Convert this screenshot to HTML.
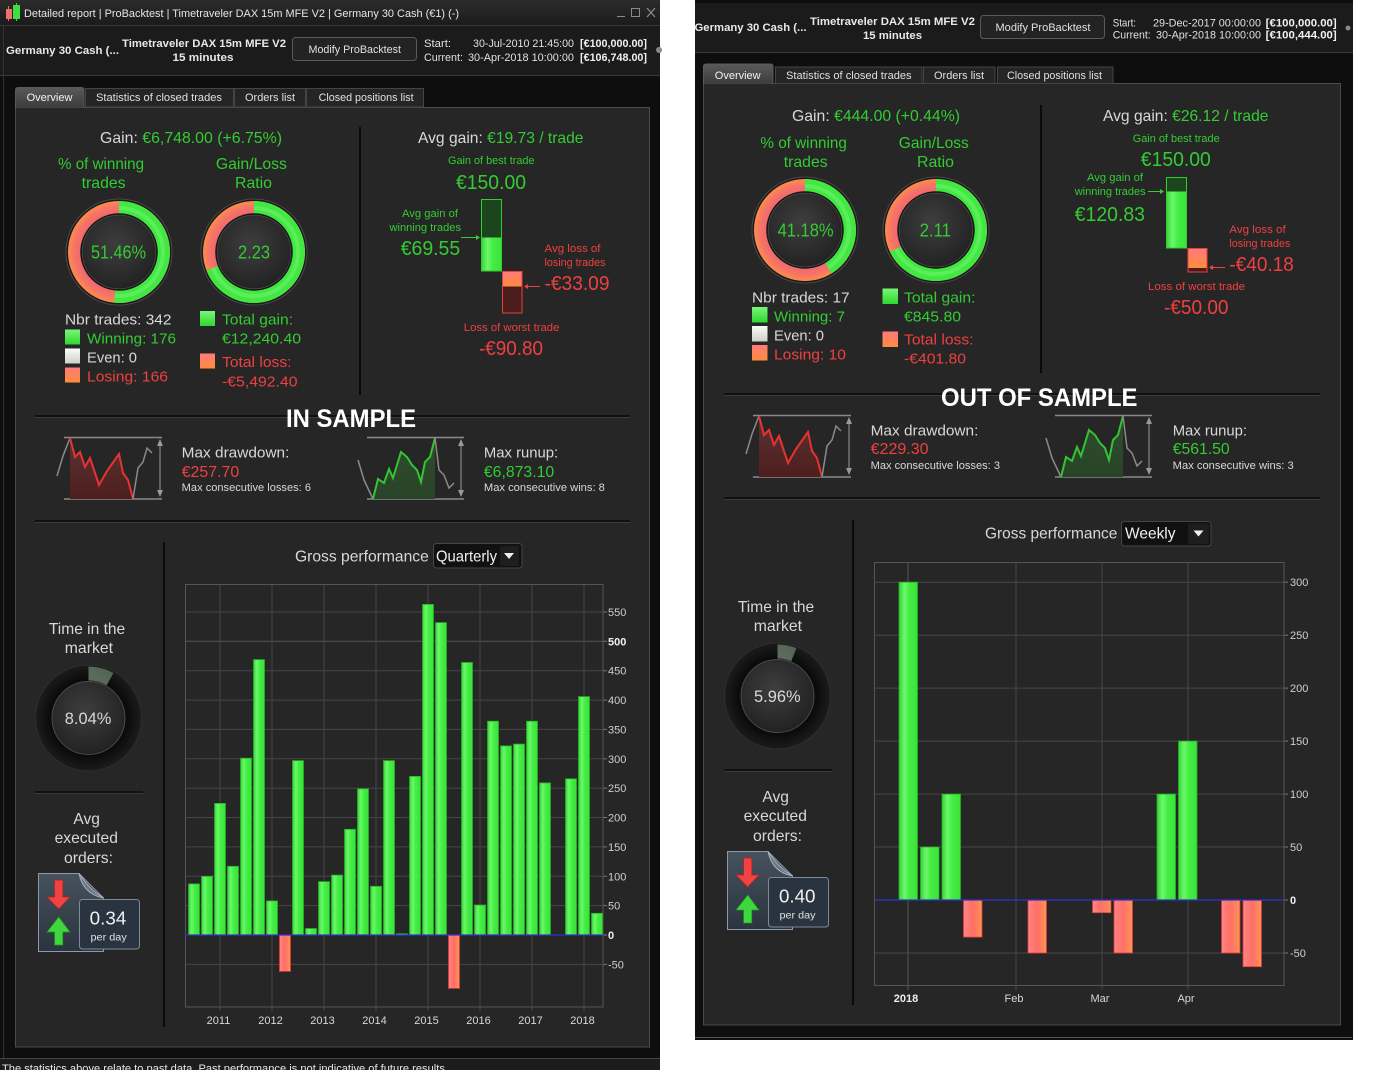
<!DOCTYPE html>
<html><head><meta charset="utf-8"><style>
html,body{margin:0;padding:0;background:#fff;overflow:hidden;}
svg{display:block;}
text{font-family:"Liberation Sans",Arial,sans-serif;}
</style></head><body>
<svg width="1389" height="1070" viewBox="0 0 1389 1070" xmlns="http://www.w3.org/2000/svg">
<defs>
<linearGradient id="gb" x1="0" y1="0" x2="1" y2="0"><stop offset="0" stop-color="#35d435"/><stop offset="0.3" stop-color="#6cf86c"/><stop offset="0.55" stop-color="#44ee44"/><stop offset="1" stop-color="#3ae23a"/></linearGradient>
<linearGradient id="rb" x1="0" y1="0" x2="1" y2="0"><stop offset="0" stop-color="#ff8585"/><stop offset="0.5" stop-color="#ff6f66"/><stop offset="1" stop-color="#ff9455"/></linearGradient>
<radialGradient id="redfill" cx="0.5" cy="0.5" r="0.5"><stop offset="0" stop-color="#f36a6a"/><stop offset="0.78" stop-color="#f36a6a"/><stop offset="0.88" stop-color="#f57468"/><stop offset="1" stop-color="#ff8c48"/></radialGradient>
<radialGradient id="inn" cx="0.45" cy="0.4" r="0.6"><stop offset="0" stop-color="#3e3e3e"/><stop offset="1" stop-color="#222"/></radialGradient>
<radialGradient id="gout" cx="0.5" cy="0.5" r="0.5"><stop offset="0.6" stop-color="#030303"/><stop offset="1" stop-color="#1c1c1c"/></radialGradient>
<linearGradient id="garc" x1="0" y1="0" x2="1" y2="1"><stop offset="0" stop-color="#8a928a"/><stop offset="1" stop-color="#4d5e4d"/></linearGradient>
<linearGradient id="sqg" x1="0" y1="0" x2="0" y2="1"><stop offset="0" stop-color="#7af57a"/><stop offset="1" stop-color="#2ed82e"/></linearGradient>
<linearGradient id="sqw" x1="0" y1="0" x2="0" y2="1"><stop offset="0" stop-color="#fafafa"/><stop offset="1" stop-color="#cfd0c8"/></linearGradient>
<linearGradient id="sqr" x1="0" y1="0" x2="0" y2="1"><stop offset="0" stop-color="#ff7a7a"/><stop offset="1" stop-color="#ff8c3c"/></linearGradient>
<linearGradient id="ddf" x1="0" y1="0" x2="0" y2="1"><stop offset="0" stop-color="#5a3434"/><stop offset="1" stop-color="#4e1e1e"/></linearGradient>
<linearGradient id="ruf" x1="0" y1="0" x2="0" y2="1"><stop offset="0" stop-color="#2f4d2f"/><stop offset="1" stop-color="#284428"/></linearGradient>
<linearGradient id="doc" x1="0" y1="0" x2="0" y2="1"><stop offset="0" stop-color="#46525e"/><stop offset="1" stop-color="#2b343e"/></linearGradient>
<linearGradient id="tabov" x1="0" y1="0" x2="0" y2="1"><stop offset="0" stop-color="#5a5a5a"/><stop offset="1" stop-color="#3c3c3c"/></linearGradient>
<linearGradient id="tbar" x1="0" y1="0" x2="0" y2="1"><stop offset="0" stop-color="#2c2c2c"/><stop offset="1" stop-color="#1b1b1b"/></linearGradient>
</defs>

<!-- ============ LEFT WINDOW ============ -->
<rect x="0" y="0" width="660" height="1070" fill="#0e0e0e"/>
<rect x="0" y="0" width="660" height="25" fill="url(#tbar)"/>
<rect x="0" y="26" width="660" height="49" fill="#1b1b1b"/>
<line x1="0" y1="25.5" x2="660" y2="25.5" stroke="#3a3a3a"/>
<line x1="0" y1="75.5" x2="660" y2="75.5" stroke="#3a3a3a"/>
<line x1="3.5" y1="26" x2="3.5" y2="1058" stroke="#333"/>
<line x1="8.5" y1="6" x2="8.5" y2="21" stroke="#e66"/><rect x="6" y="9" width="6" height="10" fill="#f07070"/>
<line x1="16.5" y1="3" x2="16.5" y2="21" stroke="#4d4"/><rect x="13" y="5" width="7" height="14" fill="#3ee03e"/>
<text x="24" y="17" font-size="11" fill="#e6e6e6" textLength="435" lengthAdjust="spacingAndGlyphs">Detailed report | ProBacktest | Timetraveler DAX 15m MFE V2 | Germany 30 Cash (€1) (-)</text>
<line x1="617" y1="16.5" x2="625" y2="16.5" stroke="#8a8a8a"/>
<rect x="631.5" y="8.5" width="8" height="8" fill="none" stroke="#8a8a8a"/>
<path d="M647,8 L655,17 M655,8 L647,17" stroke="#8a8a8a" stroke-width="1.3"/>
<text x="6" y="54" font-size="11" font-weight="bold" fill="#e8e8e8" textLength="113" lengthAdjust="spacingAndGlyphs">Germany 30 Cash (...</text>
<text x="122" y="47" font-size="11" font-weight="bold" fill="#e8e8e8" textLength="164" lengthAdjust="spacingAndGlyphs">Timetraveler DAX 15m MFE V2</text>
<text x="172.5" y="61" font-size="11" font-weight="bold" fill="#e8e8e8" textLength="61" lengthAdjust="spacingAndGlyphs">15 minutes</text>
<rect x="292.5" y="37.5" width="124" height="23" rx="3" fill="#232323" stroke="#5a5a5a"/>
<text x="308.5" y="53" font-size="11" fill="#e0e0e0" textLength="92.5" lengthAdjust="spacingAndGlyphs">Modify ProBacktest</text>
<text x="424" y="47" font-size="11" fill="#e0e0e0" textLength="27" lengthAdjust="spacingAndGlyphs">Start:</text>
<text x="473" y="47" font-size="11" fill="#e0e0e0" textLength="101" lengthAdjust="spacingAndGlyphs">30-Jul-2010 21:45:00</text>
<text x="580" y="47" font-size="11" font-weight="bold" fill="#f0f0f0" textLength="67" lengthAdjust="spacingAndGlyphs">[€100,000.00]</text>
<text x="424" y="61" font-size="11" fill="#e0e0e0" textLength="39" lengthAdjust="spacingAndGlyphs">Current:</text>
<text x="468" y="61" font-size="11" fill="#e0e0e0" textLength="106" lengthAdjust="spacingAndGlyphs">30-Apr-2018 10:00:00</text>
<text x="580" y="61" font-size="11" font-weight="bold" fill="#f0f0f0" textLength="67" lengthAdjust="spacingAndGlyphs">[€106,748.00]</text>
<circle cx="659" cy="50" r="3" fill="#888"/>
<rect x="15.5" y="107.5" width="634" height="939.5" fill="#262626" stroke="#4a4a4a"/>
<path d="M15.5,107.5 V90 Q15.5,87.5 18,87.5 H81.5 Q84,87.5 84,90 V107.5" fill="url(#tabov)" stroke="#5a5a5a"/>
<text x="49.5" y="101" font-size="11" fill="#f2f2f2" text-anchor="middle">Overview</text>
<rect x="85.5" y="88.5" width="148" height="18.5" fill="#252525" stroke="#444"/>
<text x="96" y="101" font-size="11" fill="#e0e0e0" textLength="126" lengthAdjust="spacingAndGlyphs">Statistics of closed trades</text>
<rect x="234.5" y="88.5" width="71" height="18.5" fill="#252525" stroke="#444"/>
<text x="245" y="101" font-size="11" fill="#e0e0e0" textLength="50" lengthAdjust="spacingAndGlyphs">Orders list</text>
<rect x="306.5" y="88.5" width="117" height="18.5" fill="#252525" stroke="#444"/>
<text x="318.6" y="101" font-size="11" fill="#e0e0e0" textLength="95" lengthAdjust="spacingAndGlyphs">Closed positions list</text>
<rect x="0" y="1059" width="660" height="11" fill="#1c1c1c"/>
<line x1="0" y1="1058.5" x2="660" y2="1058.5" stroke="#444"/>
<text x="2" y="1072" font-size="11" fill="#e6e6e6" textLength="446" lengthAdjust="spacingAndGlyphs">The statistics above relate to past data. Past performance is not indicative of future results.</text>

<!-- LEFT top section -->
<text x="100" y="143" font-size="16" textLength="182" lengthAdjust="spacingAndGlyphs"><tspan fill="#d8d8d8">Gain: </tspan><tspan fill="#33cc33">€6,748.00 (+6.75%)</tspan></text>
<line x1="360" y1="127" x2="360" y2="395" stroke="#0a0a0a" stroke-width="2"/>
<text x="418" y="143" font-size="16" textLength="165.5" lengthAdjust="spacingAndGlyphs"><tspan fill="#d8d8d8">Avg gain: </tspan><tspan fill="#33cc33">€19.73 / trade</tspan></text>
<text x="58" y="169" font-size="16" fill="#33cc33" textLength="86" lengthAdjust="spacingAndGlyphs">% of winning</text>
<text x="81.6" y="188" font-size="16" fill="#33cc33" textLength="44" lengthAdjust="spacingAndGlyphs">trades</text>
<text x="215.9" y="169" font-size="16" fill="#33cc33" textLength="71" lengthAdjust="spacingAndGlyphs">Gain/Loss</text>
<text x="235" y="188" font-size="16" fill="#33cc33" textLength="37" lengthAdjust="spacingAndGlyphs">Ratio</text>
<!-- donut 1 -->
<circle cx="119" cy="252" r="53" fill="#1a1a1a" stroke="#4a4a4a"/>
<circle cx="119" cy="252" r="51" fill="url(#redfill)"/>
<circle cx="119" cy="252" r="44.5" fill="none" stroke="#42e842" stroke-width="13" stroke-dasharray="143.9 400" transform="rotate(-90 119 252)"/>
<circle cx="119" cy="252" r="44" fill="none" stroke="#8af88a" stroke-opacity="0.35" stroke-width="4" stroke-dasharray="142.3 400" transform="rotate(-90 119 252)"/>
<circle cx="119" cy="252" r="38" fill="url(#inn)" stroke="#161616" stroke-width="1.5"/>
<circle cx="119" cy="252" r="36.8" fill="none" stroke="#505050" stroke-width="0.6"/>
<text x="91" y="258.5" font-size="18" fill="#33cc33" textLength="55" lengthAdjust="spacingAndGlyphs">51.46%</text>
<!-- donut 2 -->
<circle cx="254" cy="252" r="53" fill="#1a1a1a" stroke="#4a4a4a"/>
<circle cx="254" cy="252" r="51" fill="url(#redfill)"/>
<circle cx="254" cy="252" r="44.5" fill="none" stroke="#42e842" stroke-width="13" stroke-dasharray="192.9 400" transform="rotate(-90 254 252)"/>
<circle cx="254" cy="252" r="44" fill="none" stroke="#8af88a" stroke-opacity="0.35" stroke-width="4" stroke-dasharray="190.8 400" transform="rotate(-90 254 252)"/>
<circle cx="254" cy="252" r="38" fill="url(#inn)" stroke="#161616" stroke-width="1.5"/>
<circle cx="254" cy="252" r="36.8" fill="none" stroke="#505050" stroke-width="0.6"/>
<text x="238" y="258.5" font-size="18" fill="#33cc33" textLength="32" lengthAdjust="spacingAndGlyphs">2.23</text>
<!-- legend -->
<text x="65" y="324.4" font-size="15" fill="#d8d8d8" textLength="106.5" lengthAdjust="spacingAndGlyphs">Nbr trades: 342</text>
<rect x="65" y="329.5" width="15" height="15" fill="url(#sqg)"/>
<text x="87" y="343.4" font-size="15" fill="#33cc33" textLength="89" lengthAdjust="spacingAndGlyphs">Winning: 176</text>
<rect x="65" y="348.5" width="15" height="15" fill="url(#sqw)"/>
<text x="87" y="362.4" font-size="15" fill="#d8d8d8" textLength="50" lengthAdjust="spacingAndGlyphs">Even: 0</text>
<rect x="65" y="367.5" width="15" height="15" fill="url(#sqr)"/>
<text x="87" y="381.4" font-size="15" fill="#ee4040" textLength="81" lengthAdjust="spacingAndGlyphs">Losing: 166</text>
<rect x="200" y="311" width="15" height="15" fill="url(#sqg)"/>
<text x="222" y="324.4" font-size="15" fill="#33cc33" textLength="71" lengthAdjust="spacingAndGlyphs">Total gain:</text>
<text x="222" y="343.4" font-size="15" fill="#33cc33" textLength="79" lengthAdjust="spacingAndGlyphs">€12,240.40</text>
<rect x="200" y="353.5" width="15" height="15" fill="url(#sqr)"/>
<text x="222" y="367.1" font-size="15" fill="#ee4040" textLength="69.5" lengthAdjust="spacingAndGlyphs">Total loss:</text>
<text x="222" y="386.4" font-size="15" fill="#ee4040" textLength="75.5" lengthAdjust="spacingAndGlyphs">-€5,492.40</text>
<!-- avg gain diagram -->
<text x="448" y="164" font-size="11" fill="#33cc33" textLength="86.5" lengthAdjust="spacingAndGlyphs">Gain of best trade</text>
<text x="456" y="189" font-size="20" fill="#33cc33" textLength="70" lengthAdjust="spacingAndGlyphs">€150.00</text>
<rect x="481.5" y="199.5" width="20" height="38" fill="#1d451d"/>
<rect x="481.5" y="237.5" width="20" height="33.5" fill="url(#gb)"/>
<rect x="481.5" y="199.5" width="20" height="71.5" fill="none" stroke="#33cc33"/>
<rect x="502.5" y="271.5" width="19.5" height="15" fill="url(#sqr)"/>
<rect x="502.5" y="286.5" width="19.5" height="26.5" fill="#4a1c1c"/>
<rect x="502.5" y="271.5" width="19.5" height="41.5" fill="none" stroke="#e84040"/>
<text x="402" y="217" font-size="11" fill="#33cc33" textLength="56" lengthAdjust="spacingAndGlyphs">Avg gain of</text>
<text x="389.5" y="231" font-size="11" fill="#33cc33" textLength="71.5" lengthAdjust="spacingAndGlyphs">winning trades</text>
<line x1="461" y1="237.5" x2="476" y2="237.5" stroke="#33cc33"/><polygon points="476,235 480,237.5 476,240" fill="#33cc33"/>
<text x="400.7" y="255" font-size="20" fill="#33cc33" textLength="59.5" lengthAdjust="spacingAndGlyphs">€69.55</text>
<text x="544.5" y="252" font-size="11" fill="#ee4040" textLength="56" lengthAdjust="spacingAndGlyphs">Avg loss of</text>
<text x="544.5" y="266" font-size="11" fill="#ee4040" textLength="61" lengthAdjust="spacingAndGlyphs">losing trades</text>
<line x1="528" y1="286.5" x2="540" y2="286.5" stroke="#ee4040"/><polygon points="528,284 524,286.5 528,289" fill="#ee4040"/>
<text x="544.5" y="290" font-size="20" fill="#ee4040" textLength="65" lengthAdjust="spacingAndGlyphs">-€33.09</text>
<text x="463.8" y="331" font-size="11" fill="#ee4040" textLength="95.6" lengthAdjust="spacingAndGlyphs">Loss of worst trade</text>
<text x="479" y="355" font-size="20" fill="#ee4040" textLength="64" lengthAdjust="spacingAndGlyphs">-€90.80</text>

<!-- LEFT middle -->
<line x1="35" y1="416" x2="630" y2="416" stroke="#080808" stroke-width="1.5"/>
<line x1="35" y1="417.5" x2="630" y2="417.5" stroke="#3c3c3c"/>
<text x="286" y="427" font-size="25" font-weight="bold" fill="#ffffff" textLength="130" lengthAdjust="spacingAndGlyphs">IN SAMPLE</text>
<line x1="35" y1="521" x2="630" y2="521" stroke="#080808" stroke-width="1.5"/>
<line x1="35" y1="522.5" x2="630" y2="522.5" stroke="#3c3c3c"/>

<g id="ddchart">
<line x1="64" y1="437.5" x2="162" y2="437.5" stroke="#8a8a8a" stroke-width="1.5"/>
<line x1="64" y1="499" x2="162" y2="499" stroke="#8a8a8a" stroke-width="1.5"/>
<line x1="160" y1="441" x2="160" y2="495" stroke="#9a9a9a"/>
<polygon points="157,446 160,439 163,446" fill="#9a9a9a"/><polygon points="157,490 160,497 163,490" fill="#9a9a9a"/>
<path d="M70,438 L75,457 L80,452 L85,467 L90,458 L99,485 L107,471 L119,454 L123,473 L128,480 L133,499 L70,499 Z" fill="url(#ddf)"/>
<path d="M57,476 L63,456 L70,438" fill="none" stroke="#8a8a8a" stroke-width="1.5"/>
<path d="M70,438 L75,457 L80,452 L85,467 L90,458 L99,485 L107,471 L119,454 L123,473 L128,480 L133,499" fill="none" stroke="#e83232" stroke-width="2"/>
<path d="M133,499 L138,468 L143,462 L147,448 L152,453" fill="none" stroke="#8a8a8a" stroke-width="1.5"/>
</g>
<text x="181.7" y="457.4" font-size="15" fill="#d8d8d8" textLength="107.7" lengthAdjust="spacingAndGlyphs">Max drawdown:</text>
<text x="181.7" y="476.8" font-size="16" fill="#ee4040" textLength="57.5" lengthAdjust="spacingAndGlyphs">€257.70</text>
<text x="181.7" y="491" font-size="11" fill="#d8d8d8" textLength="129.3" lengthAdjust="spacingAndGlyphs">Max consecutive losses: 6</text>

<g id="ruchart">
<line x1="367" y1="437.5" x2="464" y2="437.5" stroke="#8a8a8a" stroke-width="1.5"/>
<line x1="367" y1="499" x2="464" y2="499" stroke="#8a8a8a" stroke-width="1.5"/>
<line x1="461" y1="441" x2="461" y2="495" stroke="#9a9a9a"/>
<polygon points="458,446 461,439 464,446" fill="#9a9a9a"/><polygon points="458,490 461,497 464,490" fill="#9a9a9a"/>
<path d="M373,499 L378,479 L384,483 L389,469 L393,478 L401,452 L407,457 L412,465 L417,470 L421,482 L425,462 L430,457 L435,438 L435,499 Z" fill="url(#ruf)"/>
<path d="M358,460 L364,480 L373,499" fill="none" stroke="#8a8a8a" stroke-width="1.5"/>
<path d="M373,499 L378,479 L384,483 L389,469 L393,478 L401,452 L407,457 L412,465 L417,470 L421,482 L425,462 L430,457 L435,438" fill="none" stroke="#33c433" stroke-width="2"/>
<path d="M435,438 L439,470 L444,475 L449,488 L454,483" fill="none" stroke="#8a8a8a" stroke-width="1.5"/>
</g>
<text x="483.9" y="457.4" font-size="15" fill="#d8d8d8" textLength="74.3" lengthAdjust="spacingAndGlyphs">Max runup:</text>
<text x="483.9" y="476.8" font-size="16" fill="#33cc33" textLength="70.3" lengthAdjust="spacingAndGlyphs">€6,873.10</text>
<text x="483.9" y="491" font-size="11" fill="#d8d8d8" textLength="121" lengthAdjust="spacingAndGlyphs">Max consecutive wins: 8</text>

<!-- LEFT bottom -->
<line x1="164" y1="542" x2="164" y2="1027" stroke="#0a0a0a" stroke-width="2"/>
<g id="leftcol">
<text x="48.9" y="633.8" font-size="16" fill="#d8d8d8" textLength="76.3" lengthAdjust="spacingAndGlyphs">Time in the</text>
<text x="64.8" y="652.8" font-size="16" fill="#d8d8d8" textLength="48.2" lengthAdjust="spacingAndGlyphs">market</text>
<circle cx="88.5" cy="718" r="53" fill="url(#gout)" stroke="#2e2e2e"/>
<circle cx="88.5" cy="718" r="36.5" fill="url(#inn)" stroke="#4a4a4a"/>
<line x1="35" y1="792" x2="143" y2="792" stroke="#0a0a0a" stroke-width="1.5"/>
<line x1="35" y1="793.5" x2="143" y2="793.5" stroke="#3a3a3a"/>
<text x="73.4" y="823.8" font-size="16" fill="#d8d8d8" textLength="26.5" lengthAdjust="spacingAndGlyphs">Avg</text>
<text x="54.6" y="842.8" font-size="16" fill="#d8d8d8" textLength="63.3" lengthAdjust="spacingAndGlyphs">executed</text>
<text x="64" y="862.8" font-size="16" fill="#d8d8d8" textLength="49" lengthAdjust="spacingAndGlyphs">orders:</text>
<path d="M38.5,873.5 H79 L103.5,898 V951.5 H38.5 Z" fill="url(#doc)" stroke="#8a9aaa"/>
<path d="M79,873.5 Q83,894 103.5,898 Q90,890 79,873.5 Z" fill="#6d7884" stroke="#b0bcc8" stroke-width="0.8"/>
<polygon points="54.6,880 62.8,880 62.8,897 70,897 58.7,909 47,897 54.6,897" fill="#f04444" stroke="#b82020" stroke-width="0.7"/>
<polygon points="58.7,917 70,932 62.8,932 62.8,945 54.6,945 54.6,932 47,932" fill="#3ed83e" stroke="#1f9a1f" stroke-width="0.7"/>
<rect x="79.5" y="899.5" width="60" height="49.5" rx="3" fill="#2a3440" stroke="#7d8a98"/>
</g>
<circle cx="88.5" cy="718" r="44.5" fill="none" stroke="url(#garc)" stroke-width="14" stroke-dasharray="22.5 400" transform="rotate(-90 88.5 718)"/>
<text x="64.8" y="724" font-size="17" fill="#d8d8d8" textLength="46.5" lengthAdjust="spacingAndGlyphs">8.04%</text>
<text x="89.7" y="924.5" font-size="18" fill="#f0f0f0" textLength="36.7" lengthAdjust="spacingAndGlyphs">0.34</text>
<text x="90.5" y="940.5" font-size="10" fill="#e0e0e0" textLength="36.3" lengthAdjust="spacingAndGlyphs">per day</text>

<text x="295" y="561.6" font-size="16" fill="#d8d8d8" textLength="133.8" lengthAdjust="spacingAndGlyphs">Gross performance</text>
<rect x="433.5" y="543.5" width="88.5" height="24.5" rx="3" fill="#111" stroke="#454545"/>
<text x="436" y="561.6" font-size="16" fill="#f0f0f0" textLength="61" lengthAdjust="spacingAndGlyphs">Quarterly</text>
<rect x="500" y="546" width="19" height="20" rx="2" fill="#1e1e1e"/>
<polygon points="504,553 514,553 509,559" fill="#f0f0f0"/>

<!-- left chart -->
<g stroke="#464646" stroke-width="1">
<line x1="185" y1="612" x2="603" y2="612"/><line x1="185" y1="641.3" x2="603" y2="641.3" stroke="#555"/><line x1="185" y1="670.7" x2="603" y2="670.7"/><line x1="185" y1="700.1" x2="603" y2="700.1"/><line x1="185" y1="729.4" x2="603" y2="729.4"/><line x1="185" y1="758.8" x2="603" y2="758.8"/><line x1="185" y1="788.2" x2="603" y2="788.2"/><line x1="185" y1="817.5" x2="603" y2="817.5"/><line x1="185" y1="846.9" x2="603" y2="846.9"/><line x1="185" y1="876.3" x2="603" y2="876.3"/><line x1="185" y1="905.6" x2="603" y2="905.6"/><line x1="185" y1="964.4" x2="603" y2="964.4"/>
<line x1="220" y1="584" x2="220" y2="1011"/><line x1="272" y1="584" x2="272" y2="1011"/><line x1="324" y1="584" x2="324" y2="1011"/><line x1="376" y1="584" x2="376" y2="1011"/><line x1="428" y1="584" x2="428" y2="1011"/><line x1="480" y1="584" x2="480" y2="1011"/><line x1="532" y1="584" x2="532" y2="1011"/><line x1="584" y1="584" x2="584" y2="1011"/>
</g>
<g stroke="#777"><line x1="603" y1="612" x2="607" y2="612"/><line x1="603" y1="641.3" x2="607" y2="641.3"/><line x1="603" y1="670.7" x2="607" y2="670.7"/><line x1="603" y1="700.1" x2="607" y2="700.1"/><line x1="603" y1="729.4" x2="607" y2="729.4"/><line x1="603" y1="758.8" x2="607" y2="758.8"/><line x1="603" y1="788.2" x2="607" y2="788.2"/><line x1="603" y1="817.5" x2="607" y2="817.5"/><line x1="603" y1="846.9" x2="607" y2="846.9"/><line x1="603" y1="876.3" x2="607" y2="876.3"/><line x1="603" y1="905.6" x2="607" y2="905.6"/><line x1="603" y1="935" x2="607" y2="935"/><line x1="603" y1="964.4" x2="607" y2="964.4"/></g>
<rect x="185.5" y="584.5" width="417.5" height="422.5" fill="none" stroke="#555"/>
<g stroke="#27b027" stroke-width="0.8" fill="url(#gb)">
<rect x="188.5" y="883.9" width="11" height="51.1"/><rect x="201.5" y="876.3" width="11" height="58.7"/><rect x="214.5" y="803.4" width="11" height="131.6"/><rect x="227.5" y="866.3" width="11" height="68.7"/><rect x="240.5" y="758.2" width="11" height="176.8"/><rect x="253.5" y="659.6" width="11" height="275.4"/><rect x="266.5" y="900.9" width="11" height="34.1"/>
<rect x="292.5" y="760.6" width="11" height="174.4"/><rect x="305.5" y="928.5" width="11" height="6.5"/><rect x="318.5" y="881.6" width="11" height="53.4"/><rect x="331.5" y="875.1" width="11" height="59.9"/><rect x="344.5" y="829.3" width="11" height="105.7"/><rect x="357.5" y="788.8" width="11" height="146.2"/><rect x="370.5" y="886.3" width="11" height="48.7"/><rect x="383.5" y="760.6" width="11" height="174.4"/><rect x="396.5" y="933.8" width="11" height="1.2"/><rect x="409.5" y="776.4" width="11" height="158.6"/><rect x="422.5" y="604.4" width="11" height="330.6"/><rect x="435.5" y="622.6" width="11" height="312.4"/>
<rect x="461.5" y="662.5" width="11" height="272.5"/><rect x="474.5" y="905" width="11" height="30"/><rect x="487.5" y="721.2" width="11" height="213.8"/><rect x="500.5" y="745.9" width="11" height="189.1"/><rect x="513.5" y="744.1" width="11" height="190.9"/><rect x="526.5" y="721.2" width="11" height="213.8"/><rect x="539.5" y="782.9" width="11" height="152.1"/><rect x="565.5" y="778.8" width="11" height="156.2"/><rect x="578.5" y="696.6" width="11" height="238.4"/><rect x="591.5" y="913.3" width="11" height="21.7"/>
</g>
<g stroke="#e03a3a" stroke-width="0.8" fill="url(#rb)">
<rect x="279.5" y="935" width="11" height="36.4"/><rect x="448.5" y="935" width="11" height="53.4"/>
</g>
<line x1="185" y1="935" x2="603" y2="935" stroke="#3030d8" stroke-width="1.3"/>
<g font-size="11" fill="#cfcfcf">
<text x="608" y="616">550</text><text x="608" y="645.3" font-weight="bold" fill="#f0f0f0">500</text><text x="608" y="674.7">450</text><text x="608" y="704.1">400</text><text x="608" y="733.4">350</text><text x="608" y="762.8">300</text><text x="608" y="792.2">250</text><text x="608" y="821.5">200</text><text x="608" y="850.9">150</text><text x="608" y="880.3">100</text><text x="608" y="909.6">50</text><text x="608" y="939" font-weight="bold" fill="#f0f0f0">0</text><text x="608" y="968.4">-50</text>
</g>
<g font-size="11" fill="#d8d8d8" text-anchor="middle">
<text x="218.5" y="1024">2011</text><text x="270.5" y="1024">2012</text><text x="322.5" y="1024">2013</text><text x="374.5" y="1024">2014</text><text x="426.5" y="1024">2015</text><text x="478.5" y="1024">2016</text><text x="530.5" y="1024">2017</text><text x="582.5" y="1024">2018</text>
</g>

<!-- ============ RIGHT WINDOW ============ -->
<rect x="695" y="0" width="658" height="1040" fill="#0e0e0e"/>
<rect x="695" y="3" width="658" height="49" fill="#1b1b1b"/>
<line x1="695" y1="52.5" x2="1353" y2="52.5" stroke="#3a3a3a"/>
<text x="694.5" y="31" font-size="11" font-weight="bold" fill="#e8e8e8" textLength="112" lengthAdjust="spacingAndGlyphs">Germany 30 Cash (...</text>
<text x="810" y="25" font-size="11" font-weight="bold" fill="#e8e8e8" textLength="165" lengthAdjust="spacingAndGlyphs">Timetraveler DAX 15m MFE V2</text>
<text x="863" y="39" font-size="11" font-weight="bold" fill="#e8e8e8" textLength="59" lengthAdjust="spacingAndGlyphs">15 minutes</text>
<rect x="980.5" y="15.5" width="124" height="23" rx="3" fill="#232323" stroke="#5a5a5a"/>
<text x="995.5" y="31" font-size="11" fill="#e0e0e0" textLength="95" lengthAdjust="spacingAndGlyphs">Modify ProBacktest</text>
<text x="1112.7" y="26.5" font-size="11" fill="#e0e0e0" textLength="23.3" lengthAdjust="spacingAndGlyphs">Start:</text>
<text x="1153" y="26.5" font-size="11" fill="#e0e0e0" textLength="108" lengthAdjust="spacingAndGlyphs">29-Dec-2017 00:00:00</text>
<text x="1265.7" y="26.5" font-size="11" font-weight="bold" fill="#f0f0f0" textLength="71" lengthAdjust="spacingAndGlyphs">[€100,000.00]</text>
<text x="1112.7" y="38.6" font-size="11" fill="#e0e0e0" textLength="38" lengthAdjust="spacingAndGlyphs">Current:</text>
<text x="1156" y="38.6" font-size="11" fill="#e0e0e0" textLength="105" lengthAdjust="spacingAndGlyphs">30-Apr-2018 10:00:00</text>
<text x="1265.7" y="38.6" font-size="11" font-weight="bold" fill="#f0f0f0" textLength="71" lengthAdjust="spacingAndGlyphs">[€100,444.00]</text>
<circle cx="1348" cy="28" r="2.5" fill="#888"/>
<rect x="703.5" y="83.5" width="637" height="941.5" fill="#262626" stroke="#4a4a4a"/>
<line x1="695" y1="1037.5" x2="1352" y2="1037.5" stroke="#555"/>
<path d="M703.5,83.5 V66.5 Q703.5,64 706,64 H770.5 Q773,64 773,66.5 V83.5" fill="url(#tabov)" stroke="#5a5a5a"/>
<text x="737.7" y="79" font-size="11" fill="#f2f2f2" text-anchor="middle">Overview</text>
<rect x="775.5" y="67" width="146.5" height="16.5" fill="#252525" stroke="#444"/>
<text x="786" y="79" font-size="11" fill="#e0e0e0" textLength="125.6" lengthAdjust="spacingAndGlyphs">Statistics of closed trades</text>
<rect x="923.5" y="67" width="71.5" height="16.5" fill="#252525" stroke="#444"/>
<text x="934" y="79" font-size="11" fill="#e0e0e0" textLength="50" lengthAdjust="spacingAndGlyphs">Orders list</text>
<rect x="997.5" y="67" width="115.5" height="16.5" fill="#252525" stroke="#444"/>
<text x="1007" y="79" font-size="11" fill="#e0e0e0" textLength="95" lengthAdjust="spacingAndGlyphs">Closed positions list</text>

<!-- RIGHT top -->
<text x="792" y="121" font-size="16" textLength="168" lengthAdjust="spacingAndGlyphs"><tspan fill="#d8d8d8">Gain: </tspan><tspan fill="#33cc33">€444.00 (+0.44%)</tspan></text>
<line x1="1041" y1="105" x2="1041" y2="373" stroke="#0a0a0a" stroke-width="2"/>
<text x="1103" y="121" font-size="16" textLength="165.5" lengthAdjust="spacingAndGlyphs"><tspan fill="#d8d8d8">Avg gain: </tspan><tspan fill="#33cc33">€26.12 / trade</tspan></text>
<text x="760.4" y="148" font-size="16" fill="#33cc33" textLength="86.5" lengthAdjust="spacingAndGlyphs">% of winning</text>
<text x="783.7" y="167" font-size="16" fill="#33cc33" textLength="44" lengthAdjust="spacingAndGlyphs">trades</text>
<text x="898.8" y="148" font-size="16" fill="#33cc33" textLength="70" lengthAdjust="spacingAndGlyphs">Gain/Loss</text>
<text x="917" y="167" font-size="16" fill="#33cc33" textLength="37" lengthAdjust="spacingAndGlyphs">Ratio</text>
<circle cx="805" cy="230" r="53" fill="#1a1a1a" stroke="#4a4a4a"/>
<circle cx="805" cy="230" r="51" fill="url(#redfill)"/>
<circle cx="805" cy="230" r="44.5" fill="none" stroke="#42e842" stroke-width="13" stroke-dasharray="115.1 400" transform="rotate(-90 805 230)"/>
<circle cx="805" cy="230" r="44" fill="none" stroke="#8af88a" stroke-opacity="0.35" stroke-width="4" stroke-dasharray="113.9 400" transform="rotate(-90 805 230)"/>
<circle cx="805" cy="230" r="38" fill="url(#inn)" stroke="#161616" stroke-width="1.5"/>
<circle cx="805" cy="230" r="36.8" fill="none" stroke="#505050" stroke-width="0.6"/>
<text x="777.6" y="236.5" font-size="18" fill="#33cc33" textLength="56" lengthAdjust="spacingAndGlyphs">41.18%</text>
<circle cx="936" cy="230" r="53" fill="#1a1a1a" stroke="#4a4a4a"/>
<circle cx="936" cy="230" r="51" fill="url(#redfill)"/>
<circle cx="936" cy="230" r="44.5" fill="none" stroke="#42e842" stroke-width="13" stroke-dasharray="189.6 400" transform="rotate(-90 936 230)"/>
<circle cx="936" cy="230" r="44" fill="none" stroke="#8af88a" stroke-opacity="0.35" stroke-width="4" stroke-dasharray="187.5 400" transform="rotate(-90 936 230)"/>
<circle cx="936" cy="230" r="38" fill="url(#inn)" stroke="#161616" stroke-width="1.5"/>
<circle cx="936" cy="230" r="36.8" fill="none" stroke="#505050" stroke-width="0.6"/>
<text x="919.6" y="236.5" font-size="18" fill="#33cc33" textLength="31.4" lengthAdjust="spacingAndGlyphs">2.11</text>
<text x="752" y="302.4" font-size="15" fill="#d8d8d8" textLength="97.6" lengthAdjust="spacingAndGlyphs">Nbr trades: 17</text>
<rect x="752" y="307" width="15.5" height="15.5" fill="url(#sqg)"/>
<text x="774" y="321.4" font-size="15" fill="#33cc33" textLength="71" lengthAdjust="spacingAndGlyphs">Winning: 7</text>
<rect x="752" y="326" width="15.5" height="15.5" fill="url(#sqw)"/>
<text x="774" y="340.4" font-size="15" fill="#d8d8d8" textLength="50" lengthAdjust="spacingAndGlyphs">Even: 0</text>
<rect x="752" y="345" width="15.5" height="15.5" fill="url(#sqr)"/>
<text x="774" y="359.4" font-size="15" fill="#ee4040" textLength="72" lengthAdjust="spacingAndGlyphs">Losing: 10</text>
<rect x="882.5" y="288.5" width="15.5" height="15.5" fill="url(#sqg)"/>
<text x="904" y="302.4" font-size="15" fill="#33cc33" textLength="71.5" lengthAdjust="spacingAndGlyphs">Total gain:</text>
<text x="904" y="321.4" font-size="15" fill="#33cc33" textLength="57" lengthAdjust="spacingAndGlyphs">€845.80</text>
<rect x="882.5" y="331.5" width="15.5" height="15.5" fill="url(#sqr)"/>
<text x="904" y="344.4" font-size="15" fill="#ee4040" textLength="69.5" lengthAdjust="spacingAndGlyphs">Total loss:</text>
<text x="904" y="363.4" font-size="15" fill="#ee4040" textLength="62" lengthAdjust="spacingAndGlyphs">-€401.80</text>
<text x="1132.7" y="142" font-size="11" fill="#33cc33" textLength="87" lengthAdjust="spacingAndGlyphs">Gain of best trade</text>
<text x="1140.8" y="166" font-size="20" fill="#33cc33" textLength="70" lengthAdjust="spacingAndGlyphs">€150.00</text>
<rect x="1166.5" y="177.5" width="20" height="14" fill="#1d451d"/>
<rect x="1166.5" y="191.5" width="20" height="56.5" fill="url(#gb)"/>
<rect x="1166.5" y="177.5" width="20" height="70.5" fill="none" stroke="#33cc33"/>
<rect x="1188" y="248.5" width="19" height="19.5" fill="url(#sqr)"/>
<rect x="1188" y="268" width="19" height="4" fill="#4a1c1c"/>
<rect x="1188" y="248.5" width="19" height="23.5" fill="none" stroke="#e84040"/>
<text x="1087" y="181" font-size="11" fill="#33cc33" textLength="56" lengthAdjust="spacingAndGlyphs">Avg gain of</text>
<text x="1074.7" y="195" font-size="11" fill="#33cc33" textLength="71" lengthAdjust="spacingAndGlyphs">winning trades</text>
<line x1="1148" y1="191.5" x2="1160" y2="191.5" stroke="#33cc33"/><polygon points="1160,189 1164,191.5 1160,194" fill="#33cc33"/>
<text x="1074.7" y="221" font-size="20" fill="#33cc33" textLength="70.3" lengthAdjust="spacingAndGlyphs">€120.83</text>
<text x="1229.4" y="233" font-size="11" fill="#ee4040" textLength="56.3" lengthAdjust="spacingAndGlyphs">Avg loss of</text>
<text x="1229.4" y="247" font-size="11" fill="#ee4040" textLength="61" lengthAdjust="spacingAndGlyphs">losing trades</text>
<line x1="1213" y1="267.5" x2="1225" y2="267.5" stroke="#ee4040"/><polygon points="1213,265 1209,267.5 1213,270" fill="#ee4040"/>
<text x="1229.4" y="271" font-size="20" fill="#ee4040" textLength="64.5" lengthAdjust="spacingAndGlyphs">-€40.18</text>
<text x="1148" y="290" font-size="11" fill="#ee4040" textLength="97" lengthAdjust="spacingAndGlyphs">Loss of worst trade</text>
<text x="1164" y="314" font-size="20" fill="#ee4040" textLength="64.5" lengthAdjust="spacingAndGlyphs">-€50.00</text>

<!-- RIGHT middle -->
<line x1="724" y1="394" x2="1320" y2="394" stroke="#080808" stroke-width="1.5"/>
<line x1="724" y1="395.5" x2="1320" y2="395.5" stroke="#3c3c3c"/>
<text x="941" y="406" font-size="25" font-weight="bold" fill="#ffffff" textLength="196.5" lengthAdjust="spacingAndGlyphs">OUT OF SAMPLE</text>
<line x1="724" y1="498" x2="1320" y2="498" stroke="#080808" stroke-width="1.5"/>
<line x1="724" y1="499.5" x2="1320" y2="499.5" stroke="#3c3c3c"/>
<use href="#ddchart" transform="translate(689,-22)"/>
<use href="#ruchart" transform="translate(688,-22)"/>
<text x="870.6" y="435.4" font-size="15" fill="#d8d8d8" textLength="107.8" lengthAdjust="spacingAndGlyphs">Max drawdown:</text>
<text x="870.6" y="453.8" font-size="16" fill="#ee4040" textLength="58" lengthAdjust="spacingAndGlyphs">€229.30</text>
<text x="870.6" y="469" font-size="11" fill="#d8d8d8" textLength="129.4" lengthAdjust="spacingAndGlyphs">Max consecutive losses: 3</text>
<text x="1172.7" y="435.4" font-size="15" fill="#d8d8d8" textLength="74.3" lengthAdjust="spacingAndGlyphs">Max runup:</text>
<text x="1172.7" y="453.8" font-size="16" fill="#33cc33" textLength="57" lengthAdjust="spacingAndGlyphs">€561.50</text>
<text x="1172.7" y="469" font-size="11" fill="#d8d8d8" textLength="121" lengthAdjust="spacingAndGlyphs">Max consecutive wins: 3</text>

<!-- RIGHT bottom -->
<line x1="853" y1="520" x2="853" y2="1005" stroke="#0a0a0a" stroke-width="2"/>
<use href="#leftcol" transform="translate(689,-22)"/>
<circle cx="777.5" cy="696" r="44.5" fill="none" stroke="url(#garc)" stroke-width="14" stroke-dasharray="16.7 400" transform="rotate(-90 777.5 696)"/>
<text x="754" y="702" font-size="17" fill="#d8d8d8" textLength="46.6" lengthAdjust="spacingAndGlyphs">5.96%</text>
<text x="779" y="902.5" font-size="18" fill="#f0f0f0" textLength="36.5" lengthAdjust="spacingAndGlyphs">0.40</text>
<text x="779.5" y="918.5" font-size="10" fill="#e0e0e0" textLength="36" lengthAdjust="spacingAndGlyphs">per day</text>

<text x="985" y="538.6" font-size="16" fill="#d8d8d8" textLength="132.4" lengthAdjust="spacingAndGlyphs">Gross performance</text>
<rect x="1121.5" y="521.5" width="89.5" height="24.5" rx="3" fill="#111" stroke="#454545"/>
<text x="1125" y="538.6" font-size="16" fill="#f0f0f0" textLength="50.5" lengthAdjust="spacingAndGlyphs">Weekly</text>
<rect x="1188" y="523.5" width="21" height="20.5" rx="2" fill="#1e1e1e"/>
<polygon points="1193.5,530.5 1203.5,530.5 1198.5,536.5" fill="#f0f0f0"/>

<g stroke="#464646" stroke-width="1">
<line x1="874.5" y1="582.2" x2="1284" y2="582.2"/><line x1="874.5" y1="635.2" x2="1284" y2="635.2"/><line x1="874.5" y1="688.1" x2="1284" y2="688.1"/><line x1="874.5" y1="741.1" x2="1284" y2="741.1"/><line x1="874.5" y1="794.1" x2="1284" y2="794.1"/><line x1="874.5" y1="847" x2="1284" y2="847"/><line x1="874.5" y1="953" x2="1284" y2="953"/>
<line x1="908" y1="562.5" x2="908" y2="990" stroke="#555"/><line x1="1016" y1="562.5" x2="1016" y2="990"/><line x1="1102" y1="562.5" x2="1102" y2="990"/><line x1="1188" y1="562.5" x2="1188" y2="990"/>
</g>
<g stroke="#777"><line x1="1284" y1="582.2" x2="1288" y2="582.2"/><line x1="1284" y1="635.2" x2="1288" y2="635.2"/><line x1="1284" y1="688.1" x2="1288" y2="688.1"/><line x1="1284" y1="741.1" x2="1288" y2="741.1"/><line x1="1284" y1="794.1" x2="1288" y2="794.1"/><line x1="1284" y1="847" x2="1288" y2="847"/><line x1="1284" y1="900" x2="1288" y2="900"/><line x1="1284" y1="953" x2="1288" y2="953"/></g>
<rect x="874.5" y="562.5" width="409.5" height="423" fill="none" stroke="#555"/>
<g stroke="#27b027" stroke-width="0.8" fill="url(#gb)">
<rect x="899" y="582.2" width="18.5" height="317.8"/><rect x="920.5" y="847" width="18.5" height="53"/><rect x="942" y="794.1" width="18.5" height="105.9"/><rect x="1157" y="794.1" width="18.5" height="105.9"/><rect x="1178.5" y="741.1" width="18.5" height="158.9"/>
</g>
<g stroke="#e03a3a" stroke-width="0.8" fill="url(#rb)">
<rect x="963.5" y="900" width="18.5" height="37.1"/><rect x="1028" y="900" width="18.5" height="53"/><rect x="1092.5" y="900" width="18.5" height="12.7"/><rect x="1114" y="900" width="18.5" height="53"/><rect x="1221.5" y="900" width="18.5" height="53"/><rect x="1243" y="900" width="18.5" height="66.7"/>
</g>
<line x1="874.5" y1="900" x2="1284" y2="900" stroke="#3030d8" stroke-width="1.3"/>
<g font-size="11" fill="#cfcfcf">
<text x="1290" y="586.2">300</text><text x="1290" y="639.2">250</text><text x="1290" y="692.1">200</text><text x="1290" y="745.1">150</text><text x="1290" y="798.1">100</text><text x="1290" y="851">50</text><text x="1290" y="904" font-weight="bold" fill="#f0f0f0">0</text><text x="1290" y="957">-50</text>
</g>
<g font-size="11" fill="#d8d8d8" text-anchor="middle">
<text x="906" y="1002" font-weight="bold" fill="#eeeeee">2018</text><text x="1014" y="1002">Feb</text><text x="1100" y="1002">Mar</text><text x="1186" y="1002">Apr</text>
</g>
</svg>
</body></html>
